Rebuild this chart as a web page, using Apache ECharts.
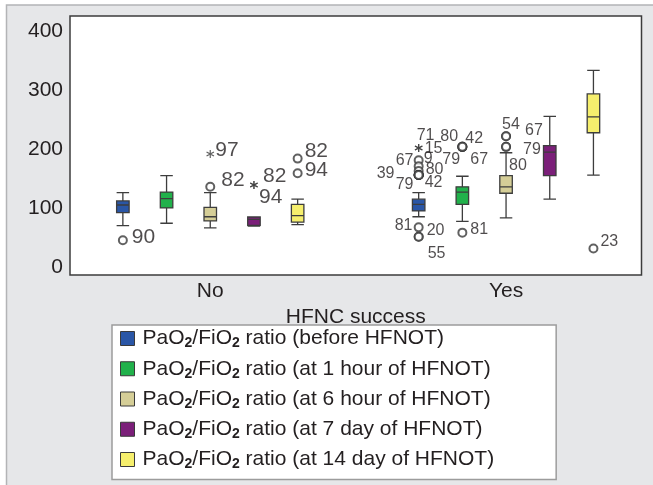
<!DOCTYPE html>
<html>
<head>
<meta charset="utf-8">
<script src="https://cdn.jsdelivr.net/npm/echarts@6/dist/echarts.min.js"></script>
<style>
  html, body { margin: 0; padding: 0; background: #fff; }
  #chart { width: 653px; height: 485px; }
</style>
</head>
<body>
<div id="chart"></div>
<script>
const groups = ['No', 'Yes'];
const seriesNames = [
  'PaO2/FiO2 ratio (before HFNOT)',
  'PaO2/FiO2 ratio (at 1 hour of HFNOT)',
  'PaO2/FiO2 ratio (at 6 hour of HFNOT)',
  'PaO2/FiO2 ratio (at 7 day of HFNOT)',
  'PaO2/FiO2 ratio (at 14 day of HFNOT)'
];
const yTicks = [0, 100, 200, 300, 400];

// [min, Q1, median, Q3, max] for No, Yes
const beforeStats = [[70, 92, 105, 112, 126], [85, 95, 106, 115, 126]];
const hour1Stats = [[74, 100, 116, 127, 155], [77, 106, 127, 136, 154]];
const hour6Stats = [[66, 78, 85, 101, 126], [83, 125, 136, 155, 194]];
const day7Stats = [[69, 70.5, 80.5, 84.6, 84.6], [115, 155, 195, 206, 256]];
const day14Stats = [[71.5, 76, 87, 106, 115], [156, 228, 255, 294, 334]];
const statsList = [beforeStats, hour1Stats, hour6Stats, day7Stats, day14Stats];

// outliers: [series, group, value, case number]
const circleOutliers = [
  [0, 0, 45, '90'],
  [2, 0, 136, '82'],
  [4, 0, 184, '82'],
  [4, 0, 159, '94'],
  [0, 1, 67, '81'],
  [0, 1, 51, '20'],
  [0, 1, 51, '55'],
  [0, 1, 181, ''],
  [0, 1, 171, ''],
  [0, 1, 163, ''],
  [0, 1, 156, '67'],
  [0, 1, 156, '9'],
  [0, 1, 156, '80'],
  [0, 1, 156, '39'],
  [0, 1, 156, '79'],
  [0, 1, 156, '42'],
  [1, 1, 58, '81'],
  [1, 1, 204, '80'],
  [1, 1, 204, '42'],
  [1, 1, 204, '79'],
  [1, 1, 204, '67'],
  [2, 1, 222, '54'],
  [2, 1, 222, '67'],
  [2, 1, 204, '79'],
  [2, 1, 204, '80'],
  [4, 1, 31, '23']
];
// extremes (drawn as *)
const starOutliers = [
  [2, 0, 192, '97'],
  [3, 0, 139, '82'],
  [3, 0, 139, '94'],
  [0, 1, 202, '71'],
  [0, 1, 202, '15']
];

// label placement next to each point, px
const circleLabelOffsets = [
  [9, -3], [11, -7], [7, -7], [7, -3],
  [-24, -2], [8, -6], [9, 17],
  [0, 0], [0, 0], [0, 0],
  [-23, -14], [5, -16], [7, -5], [-42, -1], [-23, 10], [6, 8],
  [8, -3],
  [-22, -10], [3, -8], [-20, 13], [8, 13],
  [-4, -12], [19, -6], [17, 3], [3, 19],
  [7, -7]
];
const starLabelOffsets = [[5, -4], [9, -9], [5, 12], [-2, -12], [6, 1]];

const colors = ['#2a56a6', '#21b14b', '#d5ce97', '#7b1f79', '#f6ef6d'];
const FONT = '"Liberation Sans", Arial, sans-serif';
const ink = '#231f20';

// one x unit per box; group centres on the value axis
const groupCenter = [3, 9.77];
const slotX = (s, g) => groupCenter[g] + s - 2;

const starPath = 'path://M4.3,0 L5.7,0 L5.7,10 L4.3,10 Z M0.32,3.11 L1.02,1.89 L9.68,6.89 L8.98,8.11 Z M0.32,6.89 L8.98,1.89 L9.68,3.11 L1.02,8.11 Z';

function outlierData(list, offsets) {
  return list.map((o, i) => ({
    value: [slotX(o[0], o[1]), o[2]],
    label: { formatter: o[3], offset: offsets[i], fontSize: o[1] === 0 ? 21 : 16 }
  }));
}

const outlierLabel = {
  show: true, position: 'inside', align: 'left', verticalAlign: 'middle',
  color: ink, fontFamily: FONT
};

// every box series sits on its own (identical) x axis so boxes are not shifted
const xAxes = seriesNames.map((n, i) => ({
  type: 'value', min: -0.21, max: 12.87, show: i === 0,
  axisLine: { show: false }, axisTick: { show: false }, splitLine: { show: false },
  axisLabel: {
    customValues: groupCenter,
    formatter: v => groups[groupCenter.findIndex(c => Math.abs(c - v) < 0.01)] || '',
    fontSize: 21, color: ink, fontFamily: FONT, margin: 6
  },
  name: i === 0 ? 'HFNC success' : '',
  nameLocation: 'middle', nameGap: 25,
  nameTextStyle: { fontSize: 21, color: ink, fontFamily: FONT }
}));

const chart = echarts.init(document.getElementById('chart'));

const option = {
  backgroundColor: '#fff',
  animation: false,
  graphic: [{
    type: 'rect', z: -10, silent: true,
    shape: { x: 6.5, y: 5, width: 660, height: 500 },
    style: { fill: '#e6e7e9', stroke: '#b3b4b6', lineWidth: 1.5 }
  }],
  grid: {
    left: 70, top: 16, width: 571.5, height: 259,
    show: true, backgroundColor: '#fff', borderColor: '#3c3c3c', borderWidth: 1.5
  },
  xAxis: xAxes,
  yAxis: {
    type: 'value', min: -14.1, max: 426.7,
    axisLine: { show: false }, axisTick: { show: false }, splitLine: { show: false },
    axisLabel: { customValues: yTicks, fontSize: 21, color: ink, fontFamily: FONT, margin: 7 }
  },
  legend: {
    data: seriesNames.map((n, i) => ({ name: n, itemStyle: { color: colors[i], borderColor: '#3a3a3a', borderWidth: 1 } })),
    orient: 'vertical', left: 112, top: 325,
    padding: [3, 62, 8, 8], itemGap: 7.75, itemWidth: 14, itemHeight: 14, icon: 'rect',
    backgroundColor: '#fff', borderColor: '#9c9c9c', borderWidth: 1.5,
    selectedMode: false,
    formatter: name => {
      const rest = name.slice('PaO2/FiO2'.length);
      return '{t|PaO}{s|2}{t|/FiO}{s|2}{t|' + rest + '}';
    },
    textStyle: {
      color: ink, fontFamily: FONT, padding: [0, 0, 0, 3],
      rich: {
        t: { fontSize: 21, lineHeight: 24, color: ink, fontFamily: FONT },
        s: { fontSize: 14, lineHeight: 14, fontWeight: 'bold', verticalAlign: 'bottom', color: ink, fontFamily: FONT }
      }
    }
  },
  series: [
    ...statsList.map((stats, s) => ({
      name: seriesNames[s], type: 'boxplot', xAxisIndex: s,
      boxWidth: [12.5, 12.5],
      itemStyle: { color: colors[s], borderColor: '#3d3d3d', borderWidth: 1.3 },
      emphasis: { disabled: true },
      data: stats.map((st, g) => [slotX(s, g), ...st])
    })),
    {
      type: 'scatter', xAxisIndex: 0, symbol: 'emptyCircle', symbolSize: 8,
      itemStyle: { color: '#3a3a3a', borderWidth: 1.1 },
      label: outlierLabel, z: 3,
      data: outlierData(circleOutliers, circleLabelOffsets)
    },
    {
      type: 'scatter', xAxisIndex: 0, symbol: starPath, symbolSize: 8,
      itemStyle: { color: '#3a3a3a' },
      label: outlierLabel, z: 3,
      data: outlierData(starOutliers, starLabelOffsets)
    }
  ]
};

chart.setOption(option);
</script>
</body>
</html>
